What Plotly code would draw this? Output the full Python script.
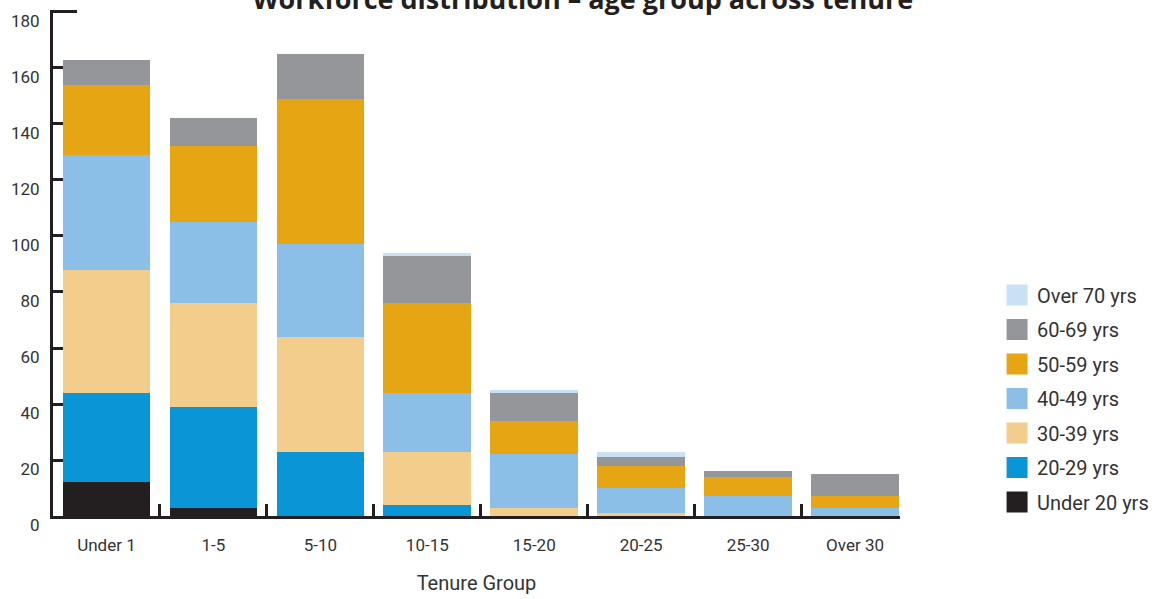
import plotly.graph_objects as go

categories = ["Under 1", "1-5", "5-10", "10-15", "15-20", "20-25", "25-30", "Over 30"]

under_20 = [12, 3, 0, 0, 0, 0, 0, 0]
age_20_29 = [32, 36, 23, 4, 0, 0, 0, 0]
age_30_39 = [44, 37, 41, 19, 3, 1, 0, 0]
age_40_49 = [41, 29, 33, 21, 19, 9, 7, 3]
age_50_59 = [25, 27, 52, 32, 12, 8, 7, 4]
age_60_69 = [9, 10, 16, 17, 10, 3, 2, 8]
over_70 = [0, 0, 0, 1, 1, 2, 0, 0]

series_names = ["Under 20 yrs", "20-29 yrs", "30-39 yrs", "40-49 yrs", "50-59 yrs", "60-69 yrs", "Over 70 yrs"]
series_values = [under_20, age_20_29, age_30_39, age_40_49, age_50_59, age_60_69, over_70]
series_colors = ["#231f20", "#0995d6", "#f3cd8b", "#8cbfe7", "#e6a512", "#959699", "#c9e1f5"]

y_ticks = [0, 20, 40, 60, 80, 100, 120, 140, 160, 180]

FONT = "Roboto, sans-serif"
INK = "#231f20"
TXT = "#333333"

fig = go.Figure()
n = len(series_names)
for i, (name, vals, col) in enumerate(zip(series_names, series_values, series_colors)):
    fig.add_trace(go.Bar(
        x=categories, y=vals, name=name, legendgroup=name, showlegend=False,
        marker=dict(color=col, line=dict(width=0)),
    ))
    # legend swatch (no data points, legend entry only)
    fig.add_trace(go.Scatter(
        x=[None], y=[None], mode="markers", name=name, legendgroup=name,
        legendrank=n - i, showlegend=True, hoverinfo="skip",
        marker=dict(symbol="square", size=16, color=col, line=dict(color=col, width=5)),
    ))

fig.update_layout(
    barmode="stack",
    bargap=0.18,
    width=1161, height=599,
    paper_bgcolor="white", plot_bgcolor="white",
    margin=dict(l=53, r=261, t=10, b=83, pad=0, autoexpand=False),
    font=dict(family=FONT, color=TXT),
    title=dict(
        text="<b>Workforce distribution – age group across tenure</b>",
        font=dict(family="Open Sans, DejaVu Sans, sans-serif", size=27, color=INK),
        xref="container", x=0.502, xanchor="center",
        yref="container", y=1.0, yanchor="middle",
    ),
    legend=dict(
        x=1.1146, xanchor="left", y=0.232, yanchor="middle",
        traceorder="grouped", tracegroupgap=5.5,
        font=dict(size=20, color=TXT, family=FONT),
        bgcolor="rgba(0,0,0,0)",
    ),
    xaxis=dict(
        type="category",
        range=[-0.5, 7.42],
        automargin=False,
        tickson="boundaries",
        ticks="inside", ticklen=12, tickwidth=3, tickcolor=INK,
        showline=True, linewidth=3, linecolor=INK,
        showgrid=False, zeroline=False,
        tickfont=dict(size=17, color=TXT),
        ticklabelstandoff=12,
        title=dict(text="Tenure Group", font=dict(size=20, color=TXT), standoff=22),
    ),
    yaxis=dict(
        range=[0, 180.71],
        automargin=False,
        tickvals=y_ticks,
        ticks="inside", ticklen=24, tickwidth=3, tickcolor=INK,
        showline=True, linewidth=3, linecolor=INK,
        showgrid=False, zeroline=False,
        layer="below traces",
        tickfont=dict(size=17, color=TXT),
        ticklabelshift=9,
        ticklabelstandoff=7,
    ),
)

fig.write_html("out.html")
